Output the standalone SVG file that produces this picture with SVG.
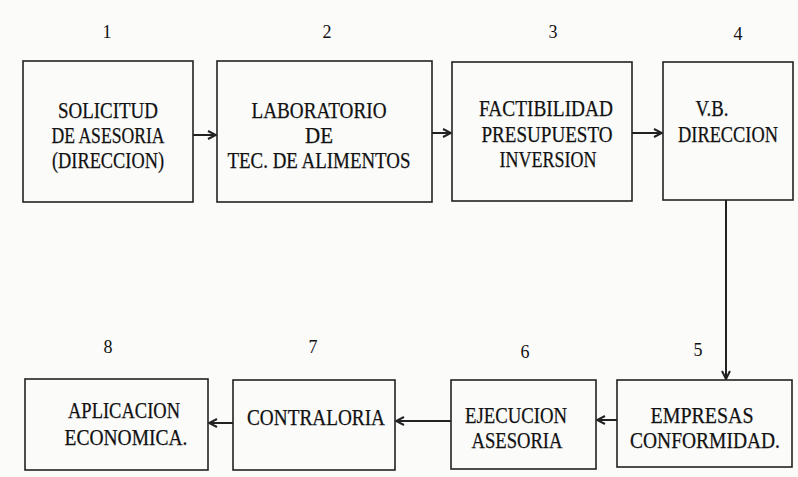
<svg xmlns="http://www.w3.org/2000/svg" width="798" height="477" viewBox="0 0 798 477">
<style>
.bx{fill:none;stroke:#222;stroke-width:1.6}
.t{font-family:"Liberation Serif","Times New Roman",serif;font-size:23px;fill:#111;stroke:#111;stroke-width:0.25;text-anchor:middle}
.n{font-family:"Liberation Serif","Times New Roman",serif;font-size:18px;fill:#111;text-anchor:middle}
.c{fill:none;stroke:#222;stroke-width:2}
</style>
<defs>
<marker id="ah" viewBox="0 0 10 10" refX="9" refY="5" markerWidth="5" markerHeight="5" orient="auto" markerUnits="strokeWidth">
<path d="M1,1 L9,5 L1,9" fill="none" stroke="#222" stroke-width="2"/>
</marker>
</defs>
<rect width="798" height="477" fill="#fbfbfa"/>
<g id="node1">
<text class="n" x="107" y="38">1</text>
<rect class="bx" x="23" y="61" width="170" height="141"/>
<text class="t" x="108" y="118" textLength="100" lengthAdjust="spacingAndGlyphs">SOLICITUD</text>
<text class="t" x="108" y="143" textLength="113" lengthAdjust="spacingAndGlyphs">DE ASESORIA</text>
<text class="t" x="108" y="168" textLength="112" lengthAdjust="spacingAndGlyphs">(DIRECCION)</text>
</g>
<g id="node2">
<text class="n" x="327" y="38">2</text>
<rect class="bx" x="217" y="61" width="215" height="141"/>
<text class="t" x="319" y="118" textLength="135" lengthAdjust="spacingAndGlyphs">LABORATORIO</text>
<text class="t" x="319" y="143" textLength="28" lengthAdjust="spacingAndGlyphs">DE</text>
<text class="t" x="319" y="168" textLength="183" lengthAdjust="spacingAndGlyphs">TEC. DE ALIMENTOS</text>
</g>
<g id="node3">
<text class="n" x="553" y="38">3</text>
<rect class="bx" x="452" y="62" width="180" height="139"/>
<text class="t" x="546" y="116" textLength="134" lengthAdjust="spacingAndGlyphs">FACTIBILIDAD</text>
<text class="t" x="547" y="142" textLength="131" lengthAdjust="spacingAndGlyphs">PRESUPUESTO</text>
<text class="t" x="548" y="167" textLength="97" lengthAdjust="spacingAndGlyphs">INVERSION</text>
</g>
<g id="node4">
<text class="n" x="738" y="40">4</text>
<rect class="bx" x="663" y="62" width="130" height="138"/>
<text class="t" x="712" y="116" textLength="33" lengthAdjust="spacingAndGlyphs">V.B.</text>
<text class="t" x="728" y="142" textLength="100" lengthAdjust="spacingAndGlyphs">DIRECCION</text>
</g>
<g id="node5">
<text class="n" x="698" y="356">5</text>
<rect class="bx" x="617" y="380" width="175" height="87"/>
<text class="t" x="702" y="423" textLength="103" lengthAdjust="spacingAndGlyphs">EMPRESAS</text>
<text class="t" x="705" y="448" textLength="150" lengthAdjust="spacingAndGlyphs">CONFORMIDAD.</text>
</g>
<g id="node6">
<text class="n" x="525" y="358">6</text>
<rect class="bx" x="451" y="380" width="145" height="89"/>
<text class="t" x="516" y="423" textLength="102" lengthAdjust="spacingAndGlyphs">EJECUCION</text>
<text class="t" x="517" y="448" textLength="91" lengthAdjust="spacingAndGlyphs">ASESORIA</text>
</g>
<g id="node7">
<text class="n" x="313" y="353">7</text>
<rect class="bx" x="233" y="380" width="162" height="90"/>
<text class="t" x="316" y="425" textLength="138" lengthAdjust="spacingAndGlyphs">CONTRALORIA</text>
</g>
<g id="node8">
<text class="n" x="108" y="353">8</text>
<rect class="bx" x="25" y="379" width="183" height="91"/>
<text class="t" x="124" y="418" textLength="112" lengthAdjust="spacingAndGlyphs">APLICACION</text>
<text class="t" x="126" y="445" textLength="123" lengthAdjust="spacingAndGlyphs">ECONOMICA.</text>
</g>
<g id="connectors">
<line class="c" x1="193" y1="135" x2="216" y2="135" marker-end="url(#ah)"/>
<line class="c" x1="432" y1="133" x2="451" y2="133" marker-end="url(#ah)"/>
<line class="c" x1="632" y1="133" x2="662" y2="133" marker-end="url(#ah)"/>
<line class="c" x1="726" y1="200" x2="726" y2="379" marker-end="url(#ah)"/>
<line class="c" x1="617" y1="420" x2="597" y2="420" marker-end="url(#ah)"/>
<line class="c" x1="451" y1="421" x2="396" y2="421" marker-end="url(#ah)"/>
<line class="c" x1="233" y1="423" x2="209" y2="423" marker-end="url(#ah)"/>
</g>
</svg>
